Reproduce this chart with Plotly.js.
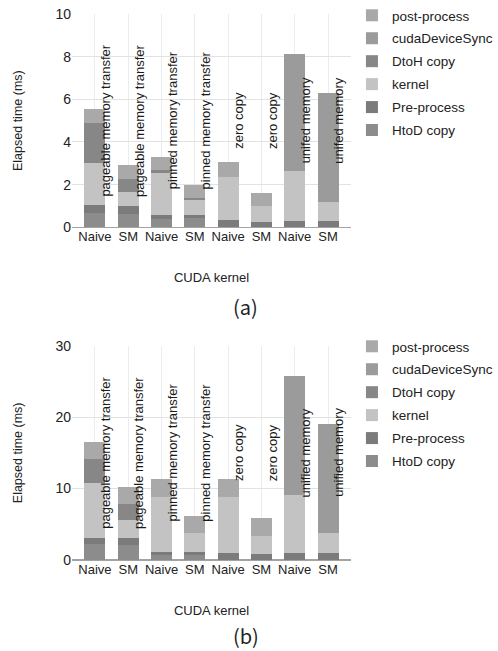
<!DOCTYPE html>
<html>
<head>
<meta charset="utf-8">
<script src="https://cdn.plot.ly/plotly-3.0.1.min.js"></script>
<style>
html,body{margin:0;padding:0;background:#fff;}
#chart{width:498px;height:651px;}
</style>
</head>
<body>
<div id="chart"></div>
<script>
// ---- data ----
const categories = ['Naive', 'SM', 'Naive', 'SM', 'Naive', 'SM', 'Naive', 'SM'];
const methodsA = ['pageable memory transfer', 'pageable memory transfer', 'pinned memory transfer', 'pinned memory transfer', 'zero copy', 'zero copy', 'unifed memory', 'unifed memory'];
const methodsB = ['pageable memory transfer', 'pageable memory transfer', 'pinned memory transfer', 'pinned memory transfer', 'zero copy', 'zero copy', 'unified memory', 'unified memory'];
const seriesNames = ['HtoD copy', 'Pre-process', 'kernel', 'DtoH copy', 'cudaDeviceSync', 'post-process'];

// chart (a)
const htodA   = [0.66, 0.62, 0.40, 0.42, 0, 0, 0, 0];
const preA    = [0.39, 0.38, 0.18, 0.18, 0.34, 0.26, 0.31, 0.31];
const kernelA = [1.98, 0.64, 1.98, 0.68, 2.03, 0.74, 2.34, 0.89];
const dtohA   = [1.84, 0.61, 0.13, 0.08, 0, 0, 0, 0];
const syncA   = [0, 0, 0, 0, 0, 0, 5.47, 5.11];
const postA   = [0.66, 0.67, 0.62, 0.62, 0.70, 0.59, 0, 0];

// chart (b)
const htodB   = [2.24, 2.14, 0.75, 0.75, 0, 0, 0, 0];
const preB    = [0.88, 0.89, 0.42, 0.42, 0.93, 0.80, 0.93, 0.93];
const kernelB = [7.69, 2.56, 7.69, 2.56, 7.93, 2.60, 8.16, 2.89];
const dtohB   = [3.27, 2.20, 0, 0, 0, 0, 0, 0];
const syncB   = [0, 0, 0, 0, 0, 0, 16.64, 15.28];
const postB   = [2.47, 2.47, 2.47, 2.47, 2.42, 2.43, 0, 0];

const yTicksA = [0, 2, 4, 6, 8, 10];
const yTicksB = [0, 10, 20, 30];

// ---- styling ----
const colors = ['#8c8c8c', '#7b7b7b', '#c3c3c3', '#878787', '#9b9b9b', '#a9a9a9'];
const FONT = 'Liberation Sans, Arial, sans-serif';
const W = 498, H = 651;
const L = 72, R = 132;
const py = y => 1 - y / H;          // page y -> paper y
const px = x => (x - L) / (W - L - R); // page x -> paper x

const xs = categories.map((c, i) => i);
const seriesA = [htodA, preA, kernelA, dtohA, syncA, postA];
const seriesB = [htodB, preB, kernelB, dtohB, syncB, postB];

const traces = [];
seriesA.forEach((vals, k) => traces.push({
  type: 'bar', x: xs, y: vals, name: seriesNames[k], xaxis: 'x', yaxis: 'y',
  marker: {color: colors[k], line: {width: 0}}, width: 0.63,
  legend: 'legend', legendgroup: 'a' + k, legendrank: 100 - k, hoverinfo: 'name+y'
}));
seriesB.forEach((vals, k) => traces.push({
  type: 'bar', x: xs, y: vals, name: seriesNames[k], xaxis: 'x2', yaxis: 'y2',
  marker: {color: colors[k], line: {width: 0}}, width: 0.63,
  legend: 'legend2', legendgroup: 'b' + k, legendrank: 100 - k, hoverinfo: 'name+y'
}));

function labelAnns(methods, xref, yref, ymid) {
  return methods.map((m, i) => ({
    x: i + 0.33, y: ymid, xref: xref, yref: yref, text: m, textangle: -90,
    showarrow: false, font: {family: FONT, size: 13, color: '#1a1a1a'}
  }));
}

const xaxisBase = {
  range: [-0.69, 7.69], tickmode: 'array', tickvals: xs, ticktext: categories,
  showgrid: true, gridcolor: '#ececec', gridwidth: 1, zeroline: false, ticks: '',
  tickfont: {family: FONT, size: 13, color: '#222'}, fixedrange: true,
  title: {text: 'CUDA kernel', font: {family: FONT, size: 13, color: '#222'}, standoff: 29}
};
const yaxisBase = {
  showgrid: true, gridcolor: '#e2e2e2', gridwidth: 1,
  zeroline: true, zerolinecolor: '#a3a3a3', zerolinewidth: 1.6, ticks: '',
  tickfont: {family: FONT, size: 14, color: '#222'}, fixedrange: true,
  title: {text: 'Elapsed time (ms)', font: {family: FONT, size: 12.5, color: '#222'}, standoff: 30}
};
const legendBase = {
  xref: 'paper', yref: 'paper', xanchor: 'left', yanchor: 'top',
  font: {family: FONT, size: 13.5, color: '#222'}, bgcolor: 'rgba(0,0,0,0)',
  traceorder: 'grouped', tracegroupgap: 2.4, itemclick: false, itemdoubleclick: false
};

const layout = {
  width: W, height: H, margin: {l: L, r: R, t: 0, b: 0},
  paper_bgcolor: '#fff', plot_bgcolor: '#fff',
  barmode: 'stack', showlegend: true,
  xaxis: Object.assign({}, xaxisBase, {anchor: 'y', domain: [0, 1]}),
  yaxis: Object.assign({}, yaxisBase, {anchor: 'x', domain: [py(227.3), py(14)], range: [0, 10], tickvals: yTicksA}),
  xaxis2: Object.assign({}, xaxisBase, {anchor: 'y2', domain: [0, 1]}),
  yaxis2: Object.assign({}, yaxisBase, {anchor: 'x2', domain: [py(560), py(345.7)], range: [0, 30], tickvals: yTicksB}),
  legend: Object.assign({}, legendBase, {x: px(367), y: py(0)}),
  legend2: Object.assign({}, legendBase, {x: px(367), y: py(331)}),
  annotations: [].concat(
    labelAnns(methodsA, 'x', 'y', 5),
    labelAnns(methodsB, 'x2', 'y2', 15),
    [
      {xref: 'paper', yref: 'paper', x: px(255), y: py(306), xanchor: 'center', yanchor: 'middle',
       text: '(a)', showarrow: false,
       font: {family: 'Noto Sans CJK KR, DejaVu Sans, sans-serif', size: 20, color: '#222'}},
      {xref: 'paper', yref: 'paper', x: px(255), y: py(635), xanchor: 'center', yanchor: 'middle',
       text: '(b)', showarrow: false,
       font: {family: 'Noto Sans CJK KR, DejaVu Sans, sans-serif', size: 20, color: '#222'}}
    ]
  )
};

Plotly.newPlot('chart', traces, layout, {displayModeBar: false, staticPlot: true});
</script>
</body>
</html>
